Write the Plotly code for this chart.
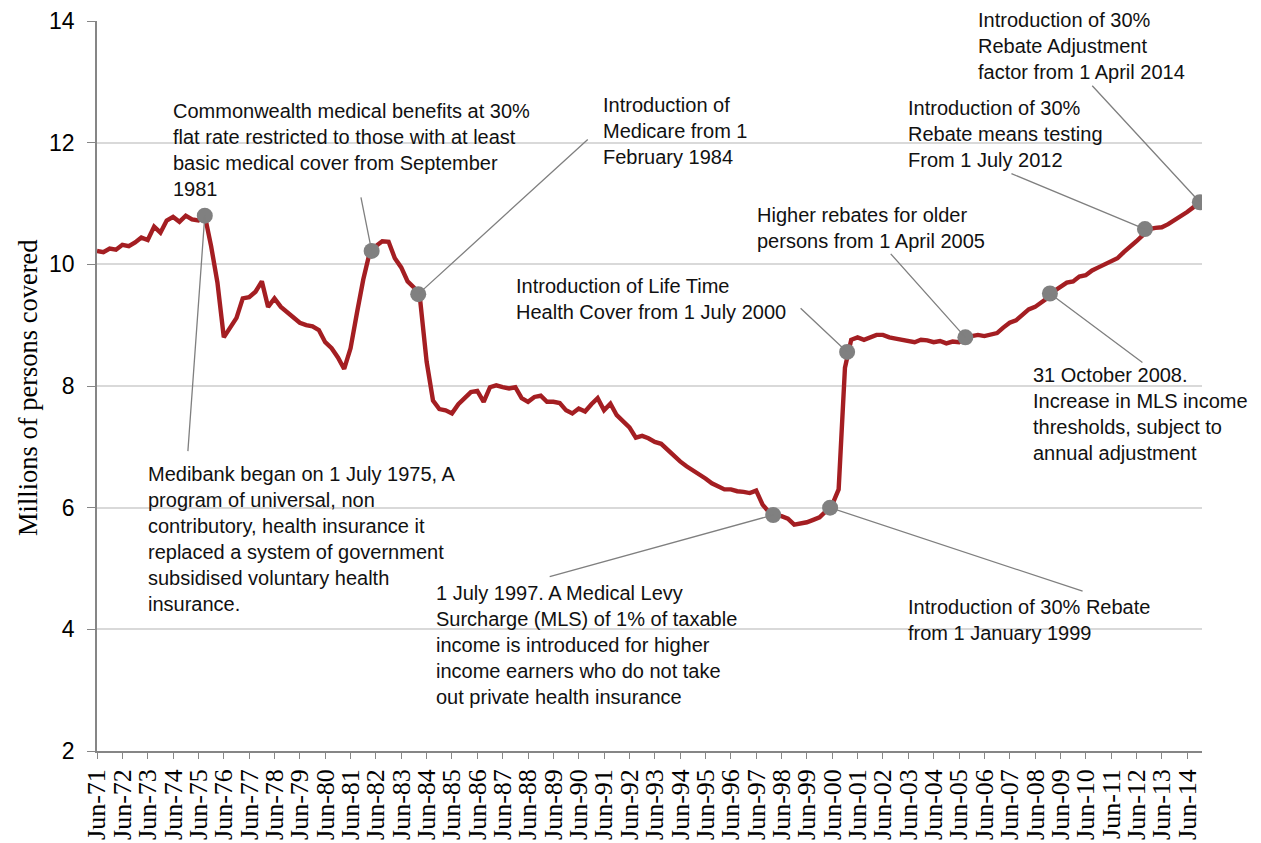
import pandas as pd
import plotly.graph_objects as go

# ---------------- data ----------------
start_date = "1971-06-01"   # quarterly series, Jun-71 .. Dec-14
coverage = [
    10.22, 10.20, 10.26, 10.24,   # 1971/72
    10.32, 10.30, 10.36, 10.44,
    10.40, 10.62, 10.52, 10.72,
    10.78, 10.70, 10.80, 10.74,
    10.72, 10.80, 10.30, 9.70,    # 1975/76
    8.80, 8.95, 9.12, 9.44,
    9.46, 9.55, 9.72, 9.30,
    9.44, 9.30, 9.22, 9.12,
    9.04, 9.00, 8.98, 8.92,
    8.72, 8.62, 8.47, 8.28,       # 1980/81
    8.62, 9.20, 9.75, 10.18,
    10.30, 10.38, 10.37, 10.10,
    9.95, 9.72, 9.62, 9.40,
    8.40, 7.76, 7.62, 7.60,
    7.55, 7.70, 7.80, 7.90,       # 1985/86
    7.92, 7.74, 7.98, 8.01,
    7.98, 7.96, 7.98, 7.80,
    7.74, 7.82, 7.84, 7.74,
    7.74, 7.72, 7.60, 7.55,
    7.63, 7.58, 7.70, 7.80,       # 1990/91
    7.60, 7.71, 7.52, 7.42,
    7.32, 7.15, 7.18, 7.14,
    7.08, 7.05, 6.95, 6.86,
    6.76, 6.68, 6.62, 6.56,
    6.48, 6.40, 6.35, 6.30,       # 1995/96
    6.30, 6.27, 6.26, 6.24,
    6.28, 6.05, 5.93, 5.88,
    5.86, 5.82, 5.72, 5.74,
    5.76, 5.80, 5.84, 5.94,
    6.05, 6.30, 8.30, 8.76,       # 2000/01
    8.80, 8.76, 8.80, 8.84,
    8.84, 8.80, 8.78, 8.76,
    8.74, 8.72, 8.76, 8.75,
    8.72, 8.74, 8.70, 8.73,
    8.72, 8.80, 8.82, 8.84,       # 2005/06
    8.82, 8.84, 8.87, 8.96,
    9.04, 9.08, 9.16, 9.26,
    9.30, 9.38, 9.45, 9.56,
    9.62, 9.70, 9.72, 9.80,
    9.82, 9.90, 9.95, 10.00,      # 2010/11
    10.04, 10.10, 10.20, 10.28,
    10.38, 10.48, 10.58, 10.60,
    10.61, 10.66, 10.72, 10.78,
    10.86, 10.94, 11.00,          # 2014
]

event_dates = ["1975-09-01", "1982-04-01", "1984-02-01", "1998-02-01", "2000-05-01",
               "2001-01-01", "2005-09-01", "2009-01-01", "2012-10-01", "2014-12-01"]
event_values = [10.80, 10.22, 9.51, 5.88, 6.00, 8.56, 8.80, 9.52, 10.58, 11.02]
event_texts = [
    "Medibank began on 1 July 1975, A<br>program of universal, non<br>contributory, health insurance it<br>replaced a system of government<br>subsidised voluntary health<br>insurance.",
    "Commonwealth medical benefits at 30%<br>flat rate restricted to those with at least<br>basic medical cover from September<br>1981",
    "Introduction of<br>Medicare from 1<br>February 1984",
    "1 July 1997. A Medical Levy<br>Surcharge (MLS) of 1% of taxable<br>income is introduced for higher<br>income earners who do not take<br>out private health insurance",
    "Introduction of 30% Rebate<br>from 1 January 1999",
    "Introduction of Life Time<br>Health Cover from 1 July 2000",
    "Higher rebates for older<br>persons from 1 April 2005",
    "31 October 2008.<br>Increase in MLS income<br>thresholds, subject to<br>annual adjustment",
    "Introduction of 30%<br>Rebate means testing<br>From 1 July 2012",
    "Introduction of 30%<br>Rebate Adjustment<br>factor from 1 April 2014",
]

tick_years = list(range(1971, 2015))
y_title = "Millions of persons covered"

# ---------------- layout (page pixel positions) ----------------
OFF = 8                      # page body margin
W, H = 1261 - OFF, 843 - OFF
PL, PR, PT, PB = 97, 1202, 21, 751   # plot area in page pixels
L, T = PL - OFF, PT - OFF
R = W + OFF - PR
B = H + OFF - PB
text_pos = [(148, 474), (173, 111), (603, 105), (436, 593), (908, 607),
            (516, 286), (757, 215), (1033, 375), (908, 108), (978, 20)]
leader_off = [(-17, 237), (-11, -55), (171, -156), (-225, 62), (254, 84),
              (-48, -45), (-76, -85), (94, 70), (-135, -56), (-109, -118)]

pw, ph = PR - PL, PB - PT


def px2paper(px, py):
    return (px - PL) / pw, (PB - py) / ph


dates = pd.date_range(start_date, periods=len(coverage), freq="3MS")
tickvals = [f"{y}-06-01" for y in tick_years]
ticktext = [f"Jun-{y % 100:02d}" for y in tick_years]

fig = go.Figure()
fig.add_trace(go.Scatter(x=dates, y=coverage, mode="lines",
                         line=dict(color="#A41E22", width=4.4),
                         hoverinfo="skip", showlegend=False))
fig.add_trace(go.Scatter(x=event_dates, y=event_values, mode="markers",
                         marker=dict(color="#808080", size=16),
                         showlegend=False))

ann = []
txt_font = dict(family="Liberation Sans, Arial, sans-serif", size=20, color="#111111")
for d, v, (ax, ay) in zip(event_dates, event_values, leader_off):
    ann.append(dict(x=d, y=v, xref="x", yref="y", text="", showarrow=True,
                    arrowhead=0, arrowwidth=1.3, arrowcolor="#7F7F7F",
                    ax=ax, ay=ay, standoff=0))
for t, (px, py) in zip(event_texts, text_pos):
    xp, yp = px2paper(px - 2, py - 13)
    ann.append(dict(x=xp, y=yp, xref="paper", yref="paper", text=t, showarrow=False,
                    xanchor="left", yanchor="top", align="left", font=txt_font))
xp, yp = px2paper(28, 388)
ann.append(dict(x=xp, y=yp, xref="paper", yref="paper", text=y_title, showarrow=False,
                textangle=-90, xanchor="center", yanchor="middle",
                font=dict(family="Liberation Serif, Times New Roman, serif", size=26.5, color="#000000")))

fig.update_layout(
    width=W, height=H,
    margin=dict(l=L, r=R, t=T, b=B, autoexpand=False),
    paper_bgcolor="white", plot_bgcolor="white",
    annotations=ann,
    showlegend=False,
    xaxis=dict(type="date", range=["1971-06-01", "2015-01-01"],
               tickvals=tickvals, ticktext=ticktext, tickangle=-90,
               ticks="outside", ticklen=6, tickwidth=1.3, tickcolor="#868686",
               showline=True, linecolor="#868686", linewidth=1.5,
               showgrid=False, zeroline=False, ticklabeloverflow="allow",
               tickfont=dict(family="Liberation Serif, Times New Roman, serif", size=26, color="#000000")),
    yaxis=dict(range=[2, 14], tickvals=[2, 4, 6, 8, 10, 12, 14],
               ticks="outside", ticklen=8, tickwidth=1.3, tickcolor="#868686",
               showline=True, linecolor="#868686", linewidth=1.5,
               showgrid=True, gridcolor="#D9D9D9", gridwidth=1.5, zeroline=False,
               ticklabelstandoff=8, ticklabeloverflow="allow",
               tickfont=dict(family="Liberation Sans, Arial, sans-serif", size=23, color="#000000")),
)

fig.write_html("out.html")
